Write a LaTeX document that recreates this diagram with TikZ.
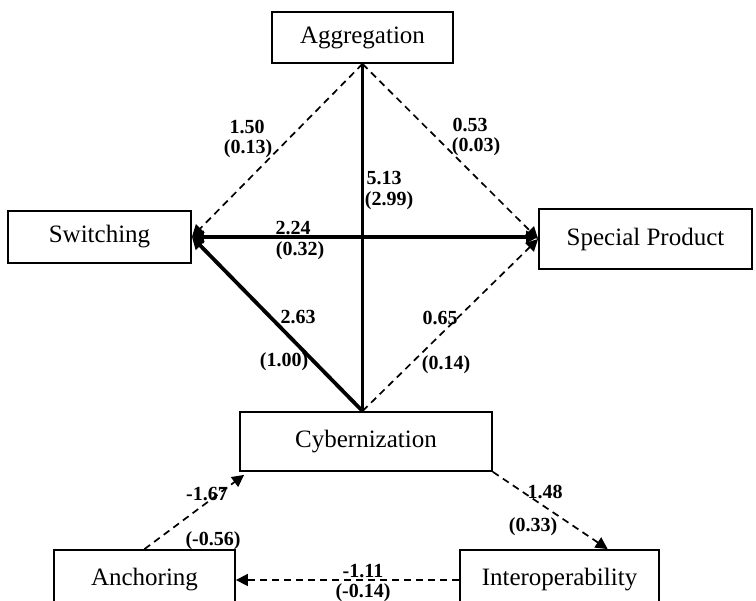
\documentclass[tikz,border=0pt]{standalone}
\usepackage{fontspec}
\setmainfont{Liberation Serif}
\usetikzlibrary{arrows.meta,calc}
\begin{document}
\begin{tikzpicture}[x=1pt,y=-1pt,
  box/.style={draw,line width=1.8pt,inner sep=0pt,font=\fontsize{25}{29}\selectfont},
  coef/.style={inner sep=0pt,font=\fontsize{20}{22}\selectfont\bfseries},
  strong/.style={line width=3.8pt},
  weak/.style={line width=1.7pt,dash pattern=on 7pt off 5pt},
  tip/.style={-{Triangle[length=12pt,width=12pt]}},
  bothtips/.style={{Triangle[length=12pt,width=12pt]}-{Triangle[length=12pt,width=12pt]}}]
\useasboundingbox (0,0) rectangle (756,601);
\clip (0,0) rectangle (756,601);

% constructs
\node[box,minimum width=181pt,minimum height=51pt] (agg) at (362.5,37.5) {Aggregation};
\node[box,minimum width=183pt,minimum height=52pt] (sw) at (99.5,237) {Switching};
\node[box,minimum width=213pt,minimum height=60pt] (sp) at (645.5,239) {Special Product};
\node[box,minimum width=252pt,minimum height=59pt] (cyb) at (366,441.5) {Cybernization};
\node[box,minimum width=181pt,minimum height=60pt] (anc) at (144.5,580) {Anchoring};
\node[box,minimum width=199pt,minimum height=60pt] (io) at (559.5,580) {Interoperability};

% attachment points
\coordinate (cybtop) at (agg.south |- cyb.north);
\coordinate (cybin) at ($(cyb.south west)+(5,3)$);
\coordinate (cybout) at (cyb.south east);
\coordinate (iotop) at ($(io.north west)!0.74!(io.north east)$);

% paths
\draw[strong] (agg.south) -- (cybtop);
\draw[weak,tip] (agg.south) -- (sw.east);
\draw[weak,tip] (agg.south) -- (sp.west);
\draw[strong,bothtips] (sw.east) -- (sw.east -| sp.west);
\draw[strong,tip] (cybtop) -- (sw.east);
\draw[weak,tip] (cybtop) -- (sp.west);
\draw[weak,tip] (anc.north) -- (cybin);
\draw[weak,tip] (cybout) -- (iotop);
\draw[weak,tip] (io.west) -- (anc.east);

% path coefficients
\node[coef] (c1a) at (247,127) {1.50};
\node[coef] (c1b) at (248,149) {(0.13)};
\node[coef] (c2a) at (470,125) {0.53};
\node[coef] (c2b) at (476,147) {(0.03)};
\node[coef] (c3a) at (384,178) {5.13};
\node[coef] (c3b) at (389,201) {(2.99)};
\node[coef] (c4a) at (293,228) {2.24};
\node[coef] (c4b) at (300,251) {(0.32)};
\node[coef] (c5a) at (298,317) {2.63};
\node[coef] (c5b) at (284,362) {(1.00)};
\node[coef] (c6a) at (440,318) {0.65};
\node[coef] (c6b) at (446,365) {(0.14)};
\node[coef] (c7a) at (207,494) {-1.67};
\node[coef] (c7b) at (213,541) {(-0.56)};
\node[coef] (c8a) at (545,492) {1.48};
\node[coef] (c8b) at (533,527) {(0.33)};
\node[coef] (c9a) at (363,571) {-1.11};
\node[coef] (c9b) at (363,593) {(-0.14)};
\end{tikzpicture}
\end{document}
